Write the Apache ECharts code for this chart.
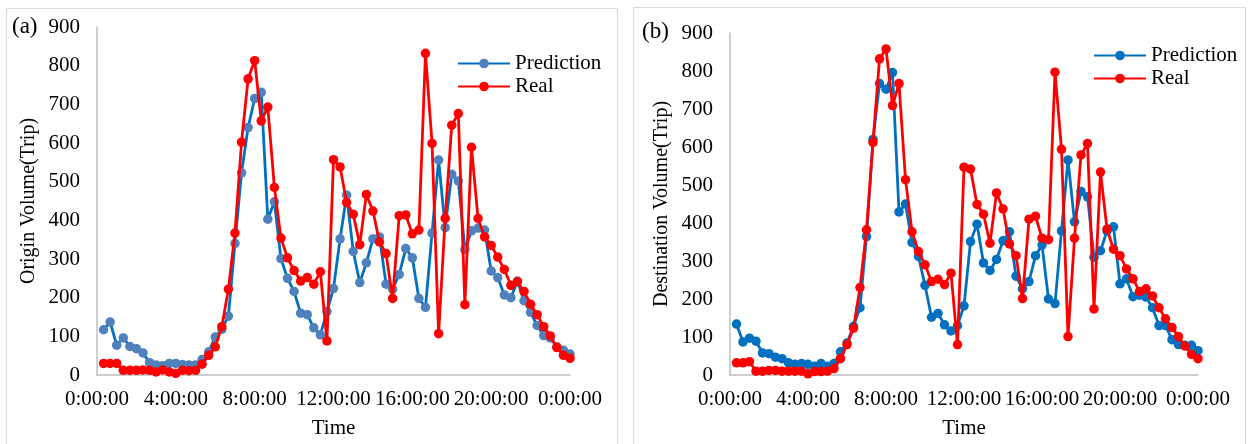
<!DOCTYPE html>
<html>
<head>
<meta charset="utf-8">
<script src="https://cdn.jsdelivr.net/npm/echarts@6/dist/echarts.min.js"></script>
<style>
html,body{margin:0;padding:0;background:#fff;}
#main{width:1251px;height:444px;}
</style>
</head>
<body>
<div id="main"></div>
<script>
/* time of each sample (20 min steps) */
var times = ["0:20","0:40","1:00","1:20","1:40","2:00","2:20","2:40","3:00","3:20","3:40","4:00",
    "4:20","4:40","5:00","5:20","5:40","6:00","6:20","6:40","7:00","7:20","7:40","8:00",
    "8:20","8:40","9:00","9:20","9:40","10:00","10:20","10:40","11:00","11:20","11:40","12:00",
    "12:20","12:40","13:00","13:20","13:40","14:00","14:20","14:40","15:00","15:20","15:40","16:00",
    "16:20","16:40","17:00","17:20","17:40","18:00","18:20","18:40","19:00","19:20","19:40","20:00",
    "20:20","20:40","21:00","21:20","21:40","22:00","22:20","22:40","23:00","23:20","23:40","24:00"];

/* (a) origin volume */
var originPred = [117,137,77,96,74,68,57,32,26,24,30,30,27,26,26,40,
    60,98,118,152,340,523,640,715,731,403,448,301,250,216,160,156,122,104,164,224,352,
    465,320,239,290,352,357,235,222,260,327,303,198,175,367,556,381,519,502,324,373,380,375,
    269,252,207,200,243,192,162,128,102,96,73,64,54];
var originReal = [30,30,30,12,12,12,13,12,8,13,8,4,12,11,12,
    28,51,73,125,222,367,602,766,813,657,693,485,354,303,270,243,252,235,267,88,557,538,
    446,416,337,467,424,344,314,198,412,414,365,375,832,599,107,405,646,676,182,589,405,357,
    335,305,273,232,241,216,183,156,125,101,71,51,43];

/* (b) destination volume */
var destPred = [134,87,97,89,58,56,47,43,32,28,30,28,23,30,23,30,
    61,84,128,177,364,620,767,752,796,429,450,349,312,236,152,162,132,116,130,182,
    351,397,295,275,304,353,377,260,227,246,314,342,200,188,379,566,403,483,469,310,327,379,390,
    240,253,206,210,205,177,130,130,93,80,78,78,64];
var destReal = [32,32,35,10,10,12,12,10,10,10,10,3,9,9,10,17,
    43,80,123,230,382,612,832,858,709,767,514,377,325,290,246,252,238,268,80,547,
    542,449,423,347,479,437,345,314,201,410,418,360,356,797,594,101,360,579,609,174,534,384,331,
    314,279,253,220,227,208,177,148,125,101,76,54,43];

var yTicks = {min: 0, max: 900, step: 100};
var xTicks = {min: 0, max: 24, step: 4};

var font = "'Liberation Serif','Times New Roman',serif";

function toHour(t){
    var p = t.split(":");
    return +p[0] + (+p[1]) / 60;
}
function pairs(vals){
    return vals.map(function(v, i){ return [toHour(times[i]), v]; });
}

function makeX(idx){
    return {
        type: 'value', gridIndex: idx,
        min: xTicks.min, max: xTicks.max, interval: xTicks.step,
        axisLine: {lineStyle: {color: '#bfbfbf', width: 1.5}},
        axisTick: {show: false},
        splitLine: {show: false},
        axisLabel: {color: '#000', fontSize: 21, fontFamily: font, margin: 14,
            formatter: function(v){ return (v % 24) + ':00:00'; }},
        name: 'Time', nameLocation: 'middle', nameGap: 43,
        nameTextStyle: {color: '#000', fontSize: 21, fontFamily: font}
    };
}
function makeY(idx, name){
    return {
        type: 'value', gridIndex: idx,
        min: yTicks.min, max: yTicks.max, interval: yTicks.step,
        axisLine: {show: true, lineStyle: {color: '#bfbfbf', width: 1.5}},
        axisTick: {show: false},
        splitLine: {show: false},
        axisLabel: {color: '#000', fontSize: 21, fontFamily: font, margin: 17},
        name: name, nameLocation: 'middle', nameGap: 58,
        nameTextStyle: {color: '#000', fontSize: 20, fontFamily: font}
    };
}
function makeLine(idx, name, vals, lineColor, dotColor, z){
    return {
        name: name, type: 'line', xAxisIndex: idx, yAxisIndex: idx,
        data: pairs(vals),
        symbol: 'circle', symbolSize: 9.5, z: z,
        lineStyle: {color: lineColor, width: 2.8},
        itemStyle: {color: dotColor}
    };
}
function makeLegend(left, top, names){
    return {
        orient: 'vertical', left: left, top: top,
        itemWidth: 52, itemHeight: 12, itemGap: 2,
        textStyle: {color: '#000', fontSize: 21, fontFamily: font},
        data: [{name: names[0]}, {name: names[1]}],
        formatter: function(n){ return n.trim(); }
    };
}

var chart = echarts.init(document.getElementById("main"));
var option = {
    animation: false,
    backgroundColor: '#fff',
    grid: [
        {left: 97, top: 27, width: 473, height: 351},
        {left: 730, top: 33, width: 468, height: 346}
    ],
    xAxis: [makeX(0), makeX(1)],
    yAxis: [makeY(0, 'Origin Volume(Trip)'), makeY(1, 'Destination Volume(Trip)')],
    legend: [
        makeLegend(452, 48, ['Prediction', 'Real']),
        makeLegend(1088, 40, ['Prediction ', 'Real '])
    ],
    graphic: [
        {type: 'rect', shape: {x: 6.5, y: 8.5, width: 611, height: 460}, style: {fill: 'none', stroke: '#d9d9d9', lineWidth: 1}},
        {type: 'rect', shape: {x: 633.5, y: 7.5, width: 612, height: 460}, style: {fill: 'none', stroke: '#d9d9d9', lineWidth: 1}},
        {type: 'text', left: 12, top: 15, style: {text: '(a)', fill: '#000', font: '23px ' + font}},
        {type: 'text', left: 642, top: 20, style: {text: '(b)', fill: '#000', font: '23px ' + font}}
    ],
    series: [
        makeLine(0, 'Prediction', originPred, '#0070c0', '#4f81bd', 2),
        makeLine(0, 'Real', originReal, '#ff0000', '#ff0000', 3),
        makeLine(1, 'Prediction ', destPred, '#0070c0', '#0070c0', 2),
        makeLine(1, 'Real ', destReal, '#ff0000', '#ff0000', 3)
    ]
};
chart.setOption(option);
</script>
</body>
</html>
